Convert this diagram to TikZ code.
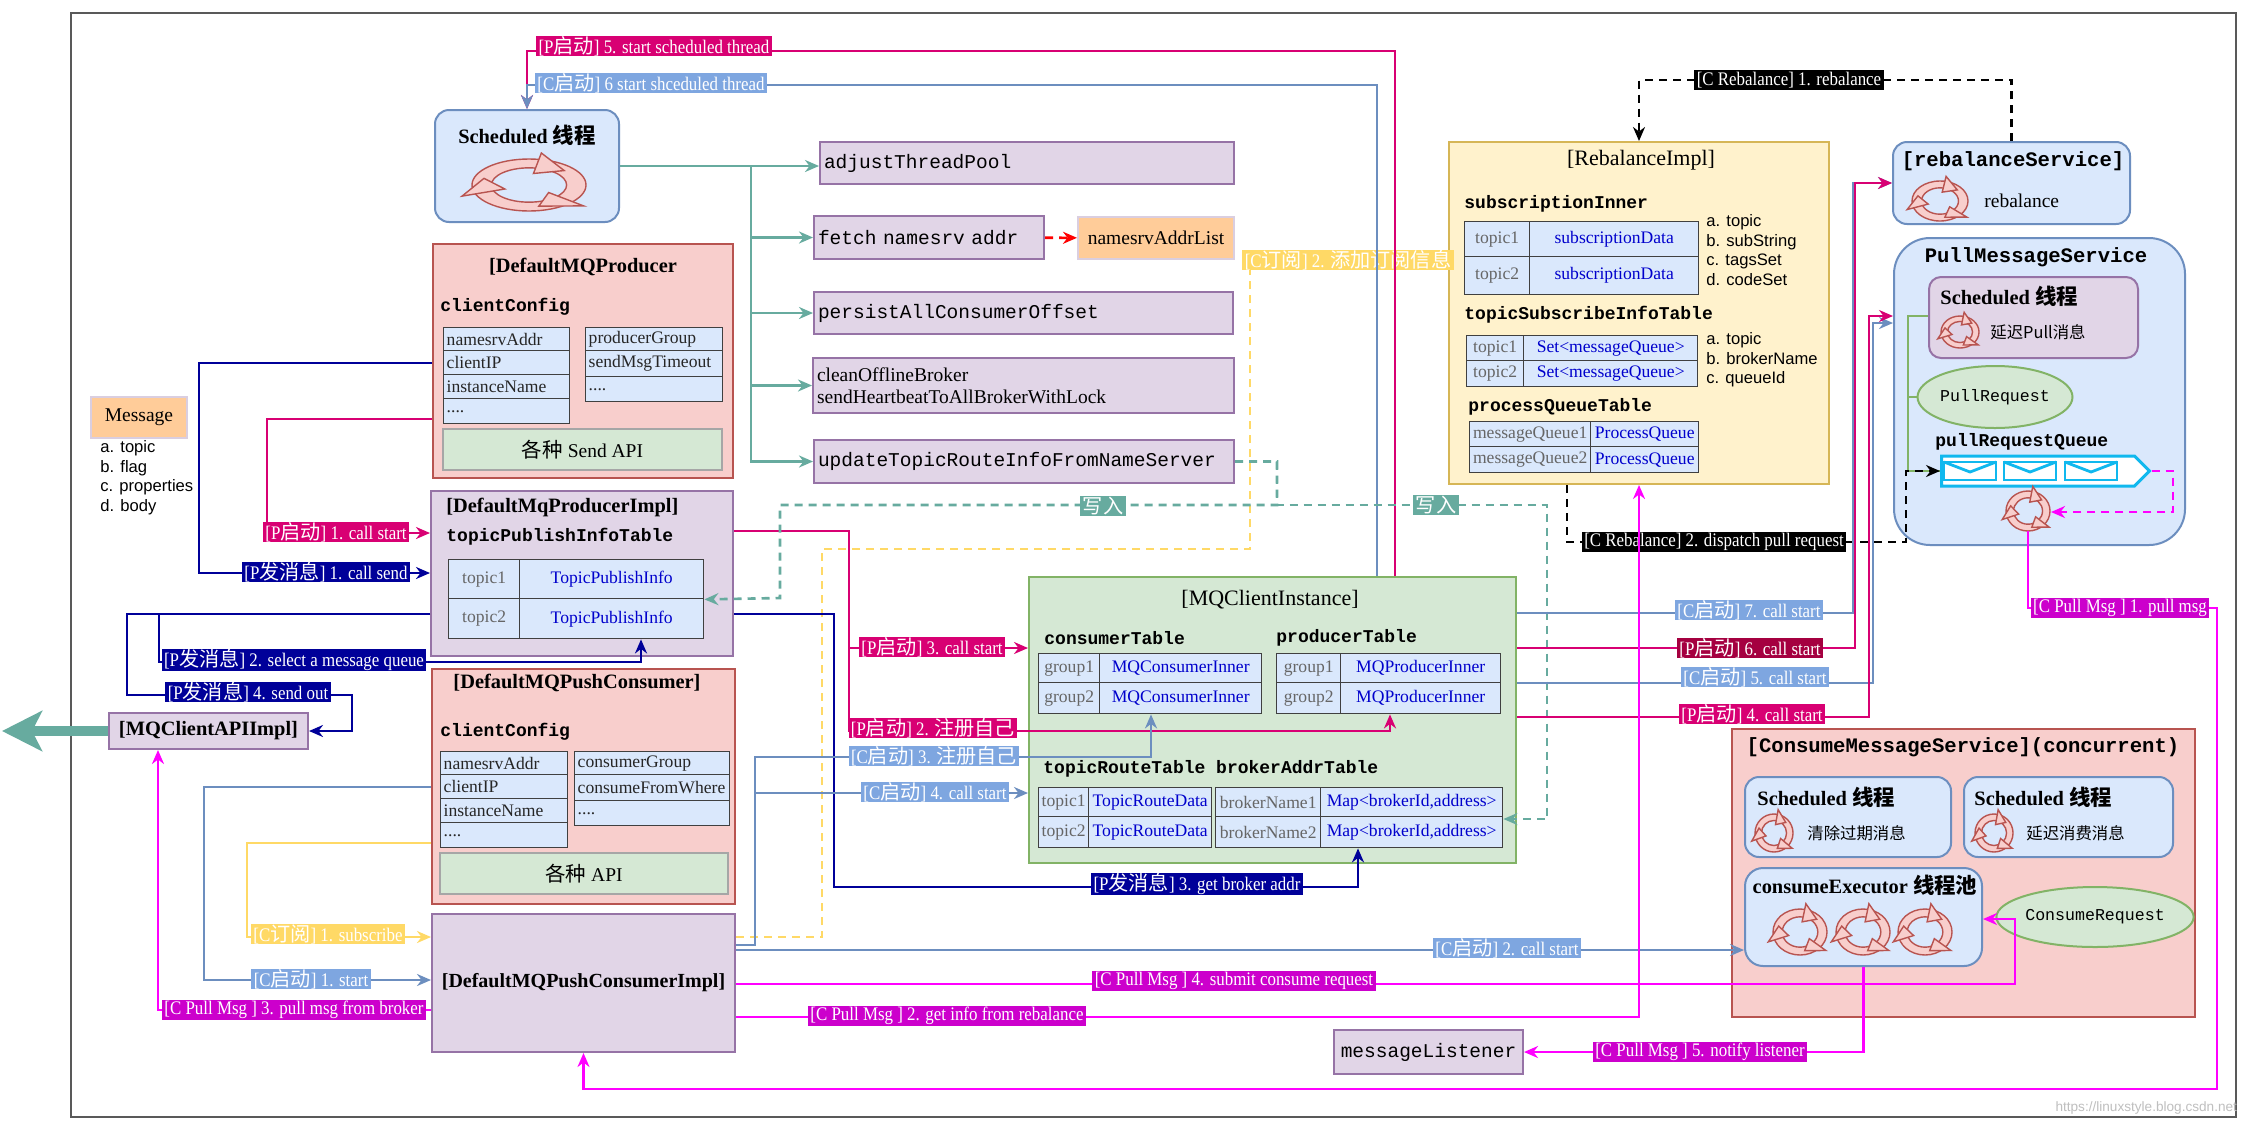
\documentclass[tikz,border=0pt]{standalone}
\usepackage{fontspec}
\setmainfont{Liberation Serif}
\setmonofont{Liberation Mono}
\newfontfamily\hel{Liberation Sans}
\newfontfamily\cjk{Noto Sans CJK SC}[Scale=1.05]
\newfontfamily\lblserif{Liberation Serif}[FakeStretch=0.88]
\usepackage{tikz}
\usetikzlibrary{arrows.meta}
\usetikzlibrary{positioning}
\usetikzlibrary{shapes.geometric}
\usetikzlibrary{shapes.symbols}

\definecolor{cCrim}{HTML}{D80073}
\definecolor{cCrimD}{HTML}{A50040}
\definecolor{cNavy}{HTML}{000099}
\definecolor{cBlue}{HTML}{6C8EBF}
\definecolor{cBlueL}{HTML}{7EA6E0}
\definecolor{cYel}{HTML}{FFD966}
\definecolor{cMag}{HTML}{FF00FF}
\definecolor{cMagL}{HTML}{CC00CC}
\definecolor{cTeal}{HTML}{67AB9F}
\definecolor{cCyan}{HTML}{10B8EE}
\definecolor{fBlue}{HTML}{DAE8FC}
\definecolor{fPur}{HTML}{E1D5E7}
\definecolor{sPur}{HTML}{9673A6}
\definecolor{fRed}{HTML}{F8CECC}
\definecolor{sRed}{HTML}{B85450}
\definecolor{fGrn}{HTML}{D5E8D4}
\definecolor{sGrn}{HTML}{82B366}
\definecolor{fYel}{HTML}{FFF2CC}
\definecolor{sYel}{HTML}{D6B656}
\definecolor{fOra}{HTML}{FFCC99}
\definecolor{tBlue}{HTML}{0000CC}
\definecolor{tGray}{HTML}{666666}

\newcommand\fnTitle{\fontsize{10.2}{12}\selectfont\bfseries}
\newcommand\fnReg{\fontsize{11}{13}\selectfont}
\newcommand\fnText{\fontsize{9.75}{11}\selectfont}
\newcommand\fnCell{\fontsize{8.8}{10}\selectfont}
\newcommand\fnLbl{\fontsize{9.6}{11}\selectfont\lblserif}
\newcommand\fnMono{\fontsize{9.75}{11}\selectfont\ttfamily}
\newcommand\fnMonoB{\fontsize{9}{10}\selectfont\ttfamily\bfseries}
\newcommand\fnMonoT{\fontsize{10.3}{12}\selectfont\ttfamily\bfseries}
\newcommand\fnMonoS{\fontsize{8.3}{10}\selectfont\ttfamily}
\newcommand\fnList{\fontsize{8.3}{9.8}\selectfont\hel}
\newcommand\fnCjk{\fontsize{7.8}{9}\selectfont\cjk}
\newcommand\moredots{....}

\tikzset{
  wh/.style 2 args={minimum width=(#1)*0.5pt, minimum height=(#2)*0.5pt},
  lw/.style={text width=(#1)*0.5pt-4pt, align=left, inner xsep=2pt},
  purbox/.style={draw=sPur, fill=fPur, line width=1pt, inner sep=0pt},
  redbox/.style={draw=sRed, fill=fRed, line width=1pt, inner sep=0pt},
  grnbox/.style={draw=sGrn, fill=fGrn, line width=1pt, inner sep=0pt},
  yelbox/.style={draw=sYel, fill=fYel, line width=1pt, inner sep=0pt},
  blubox/.style={draw=cBlue, fill=fBlue, line width=1pt, inner sep=0pt},
  orabox/.style={draw=sPur!35, fill=fOra, line width=1pt, inner sep=0pt},
  apibar/.style={draw=black!35, fill=fGrn, line width=1pt, inner sep=0pt},
  cell/.style={draw=black!75, fill=fBlue, line width=0.7pt, inner sep=1pt, font=\fnCell},
  kcell/.style={cell, text=tGray},
  vcell/.style={cell, text=tBlue},
  lcell/.style={cell, text=black!85, align=left, text width=(#1)*0.5pt-3pt, inner xsep=1.5pt},
  hd/.style={anchor=west, inner sep=0pt},
  ln/.style={line width=1.3pt},
  crimLn/.style={ln, draw=cCrim},
  navyLn/.style={ln, draw=cNavy},
  blueLn/.style={ln, draw=cBlue},
  yelLn/.style={ln, draw=cYel},
  yelDash/.style={ln, draw=cYel, dash pattern=on 4pt off 3pt},
  magLn/.style={ln, draw=cMag},
  magDash/.style={ln, draw=cMag, dash pattern=on 4pt off 3pt},
  tealLn/.style={ln, draw=cTeal},
  tealDash/.style={ln, draw=cTeal, dash pattern=on 4pt off 3pt},
  blkDash/.style={ln, draw=black, dash pattern=on 4pt off 3pt},
  grnLn/.style={ln, draw=sGrn},
  lb/.style={text=white, font=\fnLbl, inner xsep=1.2pt, inner ysep=0pt, minimum height=9.8pt},
}

% two-row key/value table: name, x0, xsplit, x1, y0, ymid, y1, key prefix, value
\newcommand\kvtable[9]{%
  \node[kcell, wh={#3-#2}{#6-#5}, anchor=north west] (#1k1) at (#2,#5) {#81};
  \node[vcell, wh={#4-#3}{#6-#5}, anchor=north west] (#1v1) at (#3,#5) {#9};
  \node[kcell, wh={#3-#2}{#7-#6}, anchor=north west] (#1k2) at (#2,#6) {#82};
  \node[vcell, wh={#4-#3}{#7-#6}, anchor=north west] (#1v2) at (#3,#6) {#9};
}

% cycle icon: x, y, x radius, y radius
\newcommand\cycicon[4]{%
  \begin{scope}[shift={(#1,#2)}, xscale=#3, yscale=#4]
    \path[fill=fRed, draw=sRed, line width=0.7pt, even odd rule] (0,0) circle (1) (0,0) circle (0.66);
    \foreach \a in {40,160,280}
      \path[fill=fRed, draw=sRed, line width=0.7pt] (\a:0.45) -- (\a:1.25) -- (\a+38:0.83) -- cycle;
  \end{scope}}

\begin{document}
\begin{tikzpicture}[x=0.5pt, y=-0.5pt, >={Stealth[length=7pt,width=6pt]}]
  \useasboundingbox (0,0) rectangle (2252,1120);
  \fill[white] (0,0) rectangle (2252,1120);
  \draw[black!65, line width=1pt] (71,13) rectangle (2236,1117);

  % scheduled thread and its tasks
  \node[blubox, rounded corners=7pt, wh={184}{112}] (sched) at (527,166) {};
  \node[font=\fnTitle] (schedT) at (527,135) {Scheduled {\cjk 线程}};
  \cycicon{529}{185}{57}{26}
  \node[purbox, wh={414}{42}, lw=414, font=\fnMono] (adjust) at (1027,163) {adjustThreadPool};
  \node[purbox, wh={230}{43}, lw=230, font=\fnMono] (fetch) at (929,237.5) {fetch namesrv addr};
  \node[orabox, wh={156}{42}, font=\fnText] (nsal) at (1156,238) {namesrvAddrList};
  \node[purbox, wh={419}{42}, lw=419, font=\fnMono] (persist) at (1023.5,313) {persistAllConsumerOffset};
  \node[purbox, wh={421}{55}, lw=421, font=\fnText] (clean) at (1023.5,385.5) {cleanOfflineBroker\\sendHeartbeatToAllBrokerWithLock};
  \node[purbox, wh={420}{43}, lw=420, font=\fnMono] (update) at (1024,461.5) {updateTopicRouteInfoFromNameServer};

  % producer
  \node[redbox, wh={300}{234}] (prod) at (583,361) {};
  \node[font=\fnTitle] (prodT) at (583,267) {[DefaultMQProducer};
  \node[hd, font=\fnMonoB] (prodC) at (440,307) {clientConfig};
  \foreach \y/\hh/\txt [count=\i] in {327/23/namesrvAddr, 350/24/clientIP, 374/24/instanceName, 398/25/\moredots}
    \node[lcell=126, wh={126}{\hh}, anchor=north west] (prodL\i) at (443,\y) {\txt};
  \foreach \y/\hh/\txt [count=\i] in {327/23/producerGroup, 350/26/sendMsgTimeout, 376/25/\moredots}
    \node[lcell=137, wh={137}{\hh}, anchor=north west] (prodR\i) at (585,\y) {\txt};
  \node[apibar, wh={279}{41}, font=\fnText] (prodApi) at (582.5,449.5) {{\cjk 各种} Send API};

  \node[purbox, wh={302}{165}] (pimpl) at (582,573.5) {};
  \node[hd, font=\fnTitle] (pimplT) at (446,507) {[DefaultMqProducerImpl]};
  \node[hd, font=\fnMonoB] (pimplC) at (446,537) {topicPublishInfoTable};
  \kvtable{pt}{448}{519}{703}{559}{598}{638}{topic}{TopicPublishInfo}

  % push consumer
  \node[redbox, wh={303}{235}] (pushc) at (583.5,786.5) {};
  \node[font=\fnTitle] (pushcT) at (577,683) {[DefaultMQPushConsumer]};
  \node[hd, font=\fnMonoB] (pushcC) at (440,732) {clientConfig};
  \foreach \y/\hh/\txt [count=\i] in {751/23/namesrvAddr, 774/24/clientIP, 798/24/instanceName, 822/25/\moredots}
    \node[lcell=127, wh={127}{\hh}, anchor=north west] (pushcL\i) at (440,\y) {\txt};
  \foreach \y/\hh/\txt [count=\i] in {751/23/consumerGroup, 774/26/consumeFromWhere, 800/25/\moredots}
    \node[lcell=155, wh={155}{\hh}, anchor=north west] (pushcR\i) at (574,\y) {\txt};
  \node[apibar, wh={288}{41}, font=\fnText] (pushcApi) at (584,873.5) {{\cjk 各种} API};

  \node[purbox, wh={303}{138}, font=\fontsize{10}{12}\selectfont\bfseries] (pcimpl) at (583.5,983) {[DefaultMQPushConsumerImpl]};
  \node[purbox, wh={199}{36}, font=\fnTitle] (apiimpl) at (208.5,731) {[MQClientAPIImpl]};
  \node[orabox, wh={96}{41}, font=\fnText] (msg) at (139,417.5) {Message};
  \node[font=\fnList, align=left, anchor=north west, inner sep=0pt] (msgL) at (100,440) {a. topic\\b. flag\\c. properties\\d. body};

  % client instance
  \node[grnbox, wh={487}{286}] (mqci) at (1272.5,720) {};
  \node[font=\fnReg] (mqciT) at (1270,600) {[MQClientInstance]};
  \node[hd, font=\fnMonoB] (mqciC) at (1044,638) {consumerTable};
  \node[hd, font=\fnMonoB] (mqciP) at (1276,638) {producerTable};
  \kvtable{ct}{1038}{1099}{1261}{653}{682}{713}{group}{MQConsumerInner}
  \kvtable{ptb}{1276}{1340}{1500}{653}{682}{713}{group}{MQProducerInner}
  \node[hd, font=\fnMonoB] (mqciR) at (1043,769) {topicRouteTable brokerAddrTable};
  \kvtable{rt}{1038}{1088}{1211}{787}{816}{847}{topic}{TopicRouteData}
  \kvtable{bt}{1215}{1320}{1502}{787}{816}{847}{brokerName}{Map<brokerId,address>}

  \node[purbox, wh={189}{44}, font=\fnMono] (listener) at (1428.5,1052) {messageListener};

  % rebalance
  \node[yelbox, wh={380}{342}] (rebal) at (1639,313) {};
  \node[font=\fnReg] (rebalT) at (1641,160) {[RebalanceImpl]};
  \node[hd, font=\fnMonoB] (rebalS) at (1464,204) {subscriptionInner};
  \kvtable{st}{1464}{1529}{1698}{221}{256}{294}{topic}{subscriptionData}
  \node[font=\fnList, align=left, anchor=north west, inner sep=0pt] (rebalSL) at (1706,214) {a. topic\\b. subString\\c. tagsSet\\d. codeSet};
  \node[hd, font=\fnMonoB] (rebalTS) at (1464,315) {topicSubscribeInfoTable};
  \kvtable{ts}{1466}{1523}{1697}{335}{360}{386}{topic}{Set<messageQueue>}
  \node[font=\fnList, align=left, anchor=north west, inner sep=0pt] (rebalTL) at (1706,332) {a. topic\\b. brokerName\\c. queueId};
  \node[hd, font=\fnMonoB] (rebalP) at (1468,407) {processQueueTable};
  \kvtable{pq}{1469}{1590}{1698}{421}{446}{472}{messageQueue}{ProcessQueue}

  \node[blubox, rounded corners=7pt, wh={237}{82}] (rbs) at (2011.5,183) {};
  \node[font=\fnMonoT] (rbsT) at (2013,161) {[rebalanceService]};
  \cycicon{1940}{201}{28}{20}
  \node[hd, font=\fnText] (rbsL) at (1984,201) {rebalance};

  % pull message service
  \node[blubox, rounded corners=18pt, wh={291}{307}] (pms) at (2039.5,391.5) {};
  \node[font=\fnMonoT] (pmsT) at (2036,257) {PullMessageService};
  \node[purbox, rounded corners=6pt, wh={209}{81}] (psch) at (2033.5,317.5) {};
  \node[hd, font=\fnTitle] (pschT) at (1940,296) {Scheduled {\cjk 线程}};
  \cycicon{1960}{332}{19}{16}
  \node[hd, font=\fnCjk] (pschL) at (1990,332) {延迟Pull消息};
  \node[ellipse, draw=sGrn, fill=fGrn, line width=1pt, inner sep=0pt, wh={128}{62}, font=\fnMonoS] (preq) at (1995,397) {PullRequest};
  \node[hd, font=\fnMonoB] (pqT) at (1935,442) {pullRequestQueue};
  \node[signal, signal to=east, draw=cCyan, line width=1.5pt, fill=white, inner sep=0pt, wh={208}{30}] (queue) at (2038,471) {};
  \foreach \ex in {1970,2030,2091} {
    \draw[cCyan, line width=1.4pt, fill=white] (\ex-26,462) rectangle (\ex+26,480);
    \draw[cCyan, line width=1.4pt] (\ex-26,462) -- (\ex,472) -- (\ex+26,462);
  }
  \cycicon{2028}{511}{22}{20}
  \coordinate (pcycS) at (2028,531);
  \coordinate (pcycE) at (2051,512);

  % consume message service
  \node[redbox, wh={463}{288}] (cms) at (1963.5,873) {};
  \node[font=\fnMonoT] (cmsT) at (1963,747) {[ConsumeMessageService](concurrent)};
  \node[blubox, rounded corners=7pt, wh={206}{80}] (cs1) at (1848,817) {};
  \node[hd, font=\fnTitle] (cs1T) at (1757,797) {Scheduled {\cjk 线程}};
  \cycicon{1774}{833}{19}{19}
  \node[hd, font=\fnCjk] (cs1L) at (1807,833) {清除过期消息};
  \node[blubox, rounded corners=7pt, wh={209}{80}] (cs2) at (2068.5,817) {};
  \node[hd, font=\fnTitle] (cs2T) at (1974,797) {Scheduled {\cjk 线程}};
  \cycicon{1994}{833}{19}{19}
  \node[hd, font=\fnCjk] (cs2L) at (2026,833) {延迟消费消息};
  \node[blubox, rounded corners=9pt, wh={237}{98}] (cexe) at (1863.5,917) {};
  \node[font=\fnTitle] (cexeT) at (1865,885) {consumeExecutor {\cjk 线程池}};
  \foreach \ix in {1800,1863,1925} {\cycicon{\ix}{932}{27}{23}}
  \node[ellipse, draw=sGrn, fill=fGrn, line width=1pt, inner sep=0pt, wh={156}{60}, font=\fnMonoS] (creq) at (2095,917) {ConsumeRequest};

  \node[anchor=east, font=\fontsize{6.8}{8}\selectfont\hel, text=black!25] (wm) at (2244,1108) {https://linuxstyle.blog.csdn.net};

  % subscribe info
  \draw[yelDash,->] (pcimpl.east |- 0,937) -| (822,549) -| (1250,260) -- (rebal.west |- 0,260);
  \node[lb, fill=cYel] (lbC2b) at (1348,260) {[C{\cjk 订阅}] 2. {\cjk 添加订阅信息}};

  % start scheduled thread
  \draw[crimLn,->] (mqci.north -| 1395,0) |- (527,51) -- (sched.north);
  \draw[blueLn,->] (mqci.north -| 1377,0) |- (527,85) -- (sched.north);
  \node[lb, fill=cCrim] (lbP5) at (654,46) {[P{\cjk 启动}] 5. start scheduled thread};
  \node[lb, fill=cBlueL] (lbC6) at (651,83) {[C{\cjk 启动}] 6 start shceduled thread};

  \draw[tealLn,->] (sched.east) -- (adjust.west |- sched.east);
  \foreach \tgt in {fetch,persist,clean,update}
    \draw[tealLn,->] (sched.east) -| (751,0 |- \tgt.west) -- (\tgt.west);
  \draw[red, line width=1.3pt, dash pattern=on 4pt off 3pt, ->] (fetch) -- (nsal);

  % producer flow
  \draw[navyLn,->] (prod.west |- 0,363) -| (199,573) -- (pimpl.west |- 0,573);
  \node[lb, fill=cNavy] (lbS1) at (326,572) {[P{\cjk 发消息}] 1. call send};
  \draw[crimLn,->] (prod.west |- 0,419) -| (267,533) -- (pimpl.west |- 0,533);
  \node[lb, fill=cCrim] (lbP1) at (336,532) {[P{\cjk 启动}] 1. call start};
  \draw[navyLn,->] (pimpl.west |- 0,614) -| (159,662) -| (ptv2.south -| 641,0);
  \node[lb, fill=cNavy] (lbS2) at (294,660) {[P{\cjk 发消息}] 2. select a message queue};
  \draw[navyLn,->] (pimpl.west |- 0,614) -| (127,695) -| (352,731) -- (apiimpl.east);
  \node[lb, fill=cNavy] (lbS4) at (248,692) {[P{\cjk 发消息}] 4. send out};
  \draw[navyLn,->] (pimpl.east |- 0,614) -| (834,887) -| (btv2.south -| 1358,0);
  \node[lb, fill=cNavy] (lbS3) at (1197,884) {[P{\cjk 发消息}] 3. get broker addr};
  \draw[crimLn,->] (pimpl.east |- 0,531) -| (849,648) -- (mqci.west |- 0,648);
  \node[lb, fill=cCrim] (lbP3) at (932,647) {[P{\cjk 启动}] 3. call start};
  \draw[crimLn,->] (pimpl.east |- 0,531) -| (849,731) -| (ptbv2.south -| 1390,0);
  \node[lb, fill=cCrim] (lbP2) at (933,728) {[P{\cjk 启动}] 2. {\cjk 注册自己}};

  % route info written back
  \draw[tealDash,->] (update.east) -| (1277,505) -| (780,598) -- (ptv1.south east);
  \draw[tealDash,->] (update.east) -| (1277,505) -| (1547,819) -- (btv2.east |- 0,819);
  \node[lb, fill=cTeal] (lbW1) at (1103,506) {\cjk 写入};
  \node[lb, fill=cTeal] (lbW2) at (1436,505) {\cjk 写入};

  % rebalance
  \draw[blkDash,->] (rbs.north) |- (rebal.north |- 0,80) -- (rebal.north);
  \node[lb, fill=black] (lbR1) at (1789,80) {[C Rebalance] 1. rebalance};
  \draw[grnLn] (psch.west |- 0,316) -| (1908,471) -- (queue.west);
  \draw[grnLn] (preq.west) -- (1908,397);
  \draw[blkDash,->] (rebal.south -| 1567,0) |- (1906,542) |- (queue.west);
  \node[lb, fill=black] (lbR2) at (1714,542) {[C Rebalance] 2. dispatch pull request};
  \draw[magDash,->] (queue.east) -| (2173,512) -- (pcycE);

  % services started by the client instance
  \draw[blueLn,->] (mqci.east |- 0,613) -| (1853,183) -- (rbs.west);
  \node[lb, fill=cBlueL] (lbC7) at (1749,610) {[C{\cjk 启动}] 7. call start};
  \draw[crimLn,->] (mqci.east |- 0,648) -| (1855,183) -- (rbs.west);
  \node[lb, fill=cCrimD] (lbP6) at (1750,648) {[P{\cjk 启动}] 6. call start};
  \draw[blueLn,->] (mqci.east |- 0,683) -| (1873,323) -- (pms.west |- 0,323);
  \node[lb, fill=cBlueL] (lbC5) at (1755,677) {[C{\cjk 启动}] 5. call start};
  \draw[crimLn,->] (mqci.east |- 0,717) -| (1869,316) -- (pms.west |- 0,316);
  \node[lb, fill=cCrim] (lbP4) at (1752,714) {[P{\cjk 启动}] 4. call start};

  % consumer flow
  \draw[blueLn,->] (pushc.west |- 0,787) -| (204,980) -- (pcimpl.west |- 0,980);
  \node[lb, fill=cBlueL] (lbC1) at (311,979) {[C{\cjk 启动}] 1. start};
  \draw[yelLn,->] (pushc.west |- 0,843) -| (247,937) -- (pcimpl.west |- 0,937);
  \node[lb, fill=cYel] (lbC1s) at (328,934) {[C{\cjk 订阅}] 1. subscribe};
  \draw[blueLn,->] (pcimpl.east |- 0,945) -| (755,757) -| (ctv2.south -| 1151,0);
  \node[lb, fill=cBlueL] (lbC3) at (934,756) {[C{\cjk 启动}] 3. {\cjk 注册自己}};
  \draw[blueLn,->] (pcimpl.east |- 0,945) -| (755,793) -- (mqci.west |- 0,793);
  \node[lb, fill=cBlueL] (lbC4) at (935,792) {[C{\cjk 启动}] 4. call start};
  \draw[blueLn,->] (pcimpl.east |- 0,950) -- (cexe.west |- 0,950);
  \node[lb, fill=cBlueL] (lbC2s) at (1507,948) {[C{\cjk 启动}] 2. call start};

  % pull message flow
  \draw[magLn,->] (pcycS) -- (2028,608) -| (2217,1089) -| (pcimpl.south);
  \node[lb, fill=cMagL] (lbM1) at (2120,608) {[C Pull Msg ] 1. pull msg};
  \draw[magLn,->] (pcimpl.east |- 0,1017) -| (rebal.south);
  \node[lb, fill=cMagL] (lbM2) at (947,1016) {[C Pull Msg ] 2. get info from rebalance};
  \draw[magLn,->] (pcimpl.west |- 0,1010) -| (apiimpl.south -| 158,0);
  \node[lb, fill=cMagL] (lbM3) at (294,1010) {[C Pull Msg ] 3. pull msg from broker};
  \draw[magLn,->] (pcimpl.east |- 0,984) -| (2015,919) -- (cexe.east |- 0,919);
  \node[lb, fill=cMagL] (lbM4) at (1234,981) {[C Pull Msg ] 4. submit consume request};
  \draw[magLn,->] (cexe.south) |- (listener.east);
  \node[lb, fill=cMagL] (lbM5) at (1700,1052) {[C Pull Msg ] 5. notify listener};

  % outgoing requests
  \draw[cTeal, line width=5pt, -{Stealth[length=20pt,width=20pt,inset=5pt]}] (apiimpl.west) -- (2,731);
\end{tikzpicture}
\end{document}
